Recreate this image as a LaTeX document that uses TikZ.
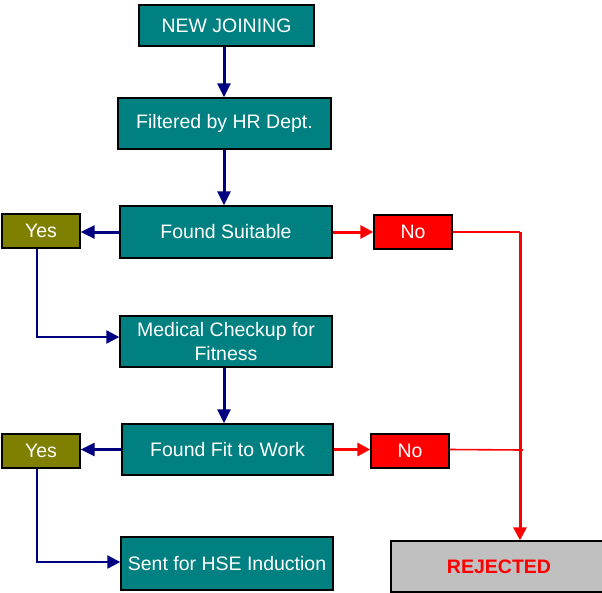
\documentclass[tikz,border=0pt]{standalone}
\usepackage{fontspec}
\setmainfont{Liberation Sans}
\usetikzlibrary{arrows.meta}
\definecolor{tealbox}{HTML}{008080}
\definecolor{olivebox}{HTML}{808000}
\definecolor{redbox}{HTML}{FF0000}
\definecolor{greybox}{HTML}{C0C0C0}
\definecolor{navyline}{HTML}{000080}
\tikzset{
  box/.style={draw=black, line width=1.4pt, inner sep=0pt, align=center,
    font=\fontsize{19.5}{24.5}\selectfont, text=white},
  stagebox/.style={box, fill=tealbox},
  yesbox/.style={box, fill=olivebox},
  nobox/.style={box, fill=redbox},
  flow/.style={navyline, line width=3pt, -{Triangle[length=14pt,width=13pt]}},
  elbowflow/.style={navyline, line width=2.3pt, -{Triangle[length=13pt,width=13pt]}},
  reject/.style={redbox, line width=3pt, -{Triangle[length=13pt,width=13pt]}},
  thinred/.style={redbox, line width=1.6pt},
}
\begin{document}
\begin{tikzpicture}[x=1pt, y=-1pt]
\useasboundingbox (0,0) rectangle (602,592);
\clip (0,0) rectangle (602,592);

% main column
\node[stagebox, minimum width=175pt, minimum height=41pt] (join) at (226.5,25.5) {NEW JOINING};
\node[stagebox, minimum width=213pt, minimum height=51pt] (hr) at (224.5,123.5) {Filtered by HR Dept.};
\node[stagebox, minimum width=212pt, minimum height=52pt] (suit) at (226,232) {Found Suitable};
\node[stagebox, minimum width=212pt, minimum height=51pt] (med) at (226,341.5) {Medical Checkup for\\Fitness};
\node[stagebox, minimum width=211pt, minimum height=51pt] (fit) at (227.5,449.5) {Found Fit to Work};
\node[stagebox, minimum width=212pt, minimum height=53pt] (hse) at (227,563.5) {Sent for HSE Induction};

% decision outcomes
\node[yesbox, minimum width=78pt, minimum height=34pt] (yes1) at (41,231) {Yes};
\node[yesbox, minimum width=78pt, minimum height=34pt] (yes2) at (41,451) {Yes};
\node[nobox, minimum width=78pt, minimum height=34pt] (no1) at (413,232) {No};
\node[nobox, minimum width=78pt, minimum height=34pt] (no2) at (410,451) {No};
\node[box, fill=greybox, text=redbox, font=\fontsize{19.5}{22}\selectfont\bfseries,
      minimum width=216pt, minimum height=51pt, text width=211pt] (rej) at (499,566.5) {REJECTED};

% routing points
\coordinate (y1down) at (37,337);
\coordinate (y2down) at (37,562);
\coordinate (rjoin) at (520,232);
\coordinate (r2end) at (523,450);

% vertical flow
\draw[flow] (join.south -| 224,0) -- (hr.north -| 224,0);
\draw[flow] (hr.south -| 224,0) -- (suit.north -| 224,0);
\draw[flow] (med.south -| 224,0) -- (fit.north -| 224,0);

% yes branches
\draw[flow] (suit.west) -- (suit.west -| yes1.east);
\draw[flow] (fit.west) -- (fit.west -| yes2.east);
\draw[elbowflow] (yes1.south -| y1down) -- (y1down) -- (y1down -| med.west);
\draw[elbowflow] (yes2.south -| y2down) -- (y2down) -- (y2down -| hse.west);

% no branches
\draw[reject] (suit.east) -- (suit.east -| no1.west);
\draw[reject] (fit.east) -- (fit.east -| no2.west);
\draw[thinred] (no1.east) -- (rjoin);
\draw[thinred] (fit.east -| no2.east) -- (r2end);
\draw[reject] (rjoin) -- (rjoin |- rej.north);
\end{tikzpicture}
\end{document}
